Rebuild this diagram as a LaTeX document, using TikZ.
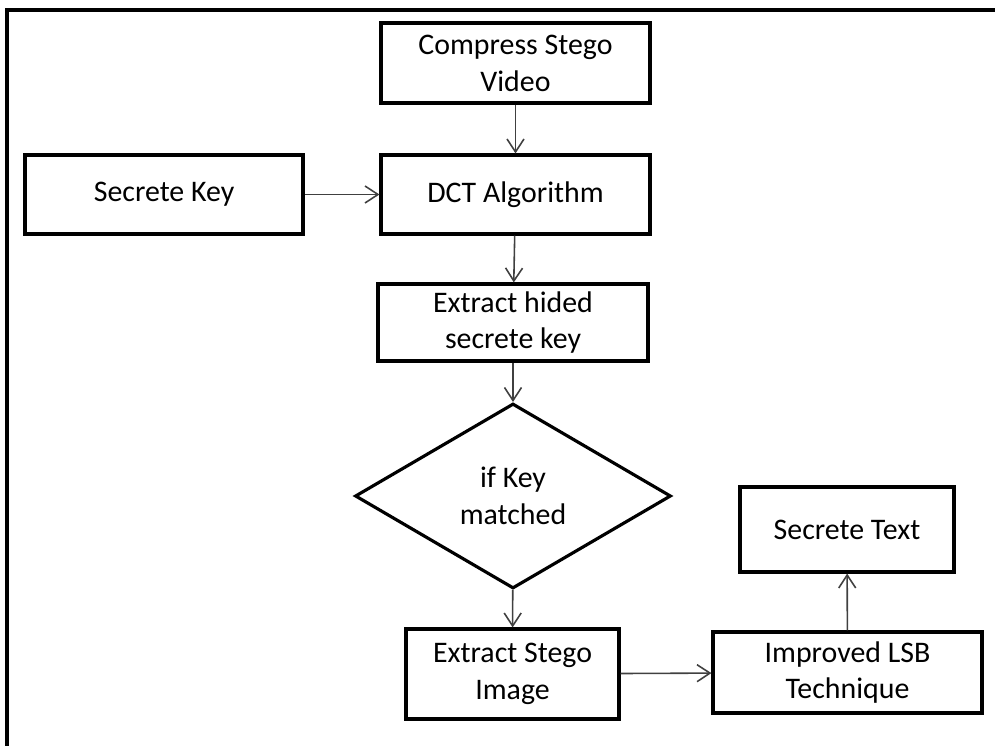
\documentclass[tikz,border=0pt]{standalone}
\usepackage{fontspec}
\setmainfont{Carlito}
\usetikzlibrary{shapes.geometric,arrows.meta}

\begin{document}
\begin{tikzpicture}[x=0.02cm, y=-0.02cm,
    font=\fontsize{17}{21}\selectfont,
    stepbox/.style ={rectangle, draw, line width=1.8pt, align=center, inner sep=0pt},
    decision/.style ={diamond, draw, line width=1.8pt, align=center, inner sep=0pt},
    flow/.style ={line width=0.9pt, black!75, -{Straight Barb[length=2.6mm, width=3.4mm, line width=0.9pt]}}]
   \useasboundingbox (0,0) rectangle (995,746);
   \draw[line width=2pt] (7,746) -- (7,10) -- (995,10);

   \node[stepbox, minimum width=5.38cm, minimum height=1.6cm] (A) at (515.5,63) {Compress Stego\\Video};
   \node[stepbox, minimum width=5.56cm, minimum height=1.58cm] (B) at (164,194.5) {Secrete Key};
   \node[stepbox, minimum width=5.38cm, minimum height=1.58cm] (C) at (515.5,194.5) {DCT Algorithm};
   \node[stepbox, minimum width=5.4cm, minimum height=1.54cm] (D) at (513,322.5) {Extract hided\\secrete key};
   \node[decision, minimum width=6.32cm, minimum height=3.7cm] (E) at (513,496) {if Key\\matched};
   \node[stepbox, minimum width=4.26cm, minimum height=1.8cm] (F) at (512.5,674) {Extract Stego\\Image};
   \node[stepbox, minimum width=5.38cm, minimum height=1.62cm] (G) at (847.5,672.5) {Improved LSB\\Technique};
   \node[stepbox, minimum width=4.28cm, minimum height=1.7cm] (H) at (847,529.5) {Secrete Text};

   \draw[flow] (A) to (C);
   \draw[flow] (B) to (C);
   \draw[flow] (C) to (D);
   \draw[flow] (D) to (E);
   \draw[flow] (E) to (F);
   \draw[flow] (F) to (G);
   \draw[flow] (G) to (H);

 \end{tikzpicture}
\end{document}
